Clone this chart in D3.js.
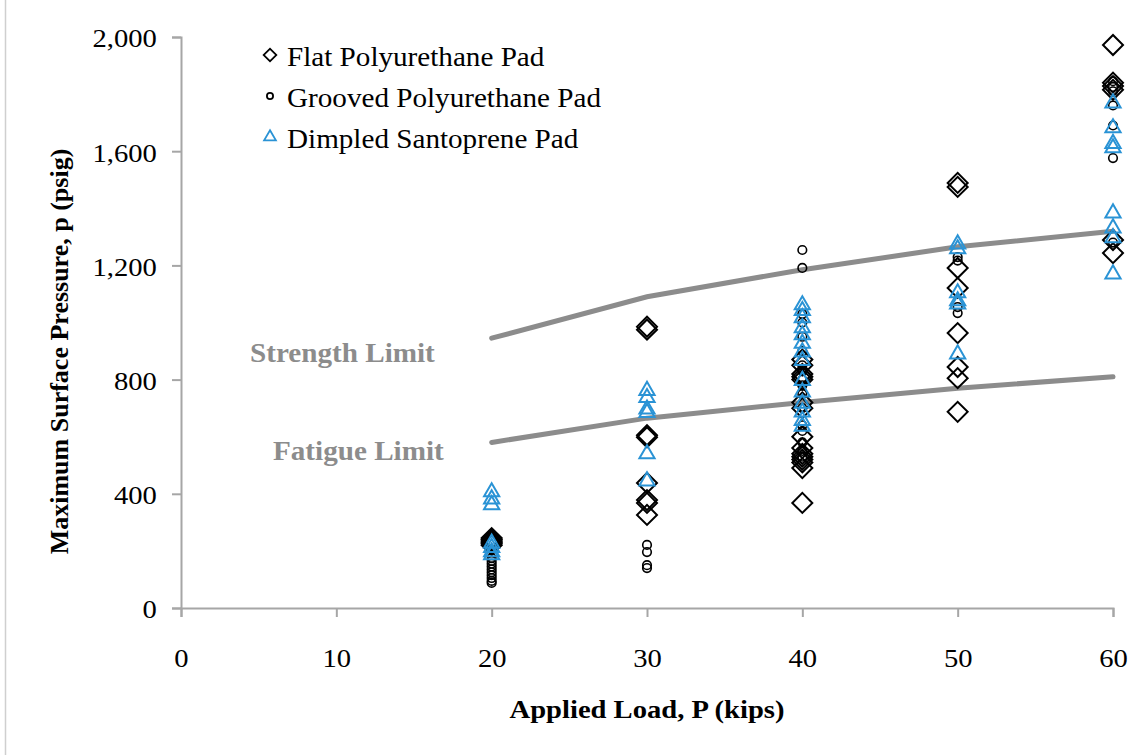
<!DOCTYPE html>
<html>
<head>
<meta charset="utf-8">
<script src="https://cdn.jsdelivr.net/npm/d3@7"></script>
<style>
  body { margin: 0; background: #fff; }
  svg { display: block; }
</style>
</head>
<body>
<script>
// Chart data
const xTicks = [0, 10, 20, 30, 40, 50, 60];
const yTicks = [0, 400, 800, 1200, 1600, 2000];

// [load (kips), pressure (psig)]
const flatPad = [
  [20, 245], [20, 240], [20, 235], [20, 230], [20, 225], [20, 220],
  [30, 985], [30, 975], [30, 605], [30, 598], [30, 438], [30, 378], [30, 368], [30, 326],
  [40, 870], [40, 850], [40, 820], [40, 810], [40, 800], [40, 720], [40, 700], [40, 600],
  [40, 560], [40, 540], [40, 530], [40, 520], [40, 510], [40, 490], [40, 368],
  [50, 1489], [50, 1475], [50, 1191], [50, 1121], [50, 963], [50, 844], [50, 805], [50, 687],
  [60, 1972], [60, 1840], [60, 1828], [60, 1815], [60, 1289], [60, 1243]
];
const groovedPad = [
  [20, 175], [20, 165], [20, 155], [20, 145], [20, 135], [20, 125], [20, 115], [20, 105], [20, 95], [20, 88],
  [30, 221], [30, 196], [30, 150], [30, 140],
  [40, 1254], [40, 1191], [40, 1030], [40, 1000], [40, 950], [40, 900], [40, 850], [40, 830],
  [40, 800], [40, 780], [40, 750], [40, 700], [40, 640], [40, 620], [40, 580], [40, 550], [40, 530],
  [50, 1229], [50, 1217], [50, 1054], [50, 1033],
  [60, 1845], [60, 1825], [60, 1810], [60, 1760], [60, 1690], [60, 1576], [60, 1280]
];
const dimpledPad = [
  [20, 410], [20, 385], [20, 365], [20, 230], [20, 215], [20, 200], [20, 190],
  [30, 765], [30, 740], [30, 700], [30, 688], [30, 543], [30, 448],
  [40, 1065], [40, 1045], [40, 1020], [40, 985], [40, 960], [40, 930], [40, 900], [40, 870],
  [40, 800], [40, 760], [40, 720], [40, 690], [40, 660], [40, 640],
  [50, 1278], [50, 1261], [50, 1107], [50, 1079], [50, 1068], [50, 893],
  [60, 1772], [60, 1685], [60, 1630], [60, 1615], [60, 1387], [60, 1334], [60, 1300], [60, 1173]
];

const limitLoads = [20, 30, 40, 50, 60];
const strengthLimit = [945, 1090, 1185, 1265, 1320];
const fatigueLimit = [580, 665, 720, 770, 810];

const width = 1135;
const height = 755;
const blue = "#2a93d5";
const serif = "'Liberation Serif', 'Times New Roman', serif";
const stretch = 1.1; // the source picture is a bit wider than tall

// Scales
const xScale = d3.scaleLinear().domain([0, 60]).range([181, 1113]);
const yScale = d3.scaleLinear().domain([0, 2000]).range([608, 37]);

const svg = d3
  .select("body")
  .append("svg")
  .attr("width", width)
  .attr("height", height);

// Faint frame line on the left
svg
  .append("line")
  .attr("x1", 5.5)
  .attr("x2", 5.5)
  .attr("y1", 0)
  .attr("y2", height)
  .attr("stroke", "#cfcfcf")
  .attr("stroke-width", 1.5);

// Y axis
const yAxis = svg
  .append("g")
  .attr("transform", `translate(${xScale(0)}, 0)`)
  .call(d3.axisLeft(yScale).tickValues(yTicks).tickSize(9).tickPadding(13).tickFormat(d3.format(",")));
yAxis.selectAll("path, line").attr("stroke", "#a6a6a6").attr("stroke-width", 2);
yAxis
  .selectAll("text")
  .attr("font-family", serif)
  .attr("font-size", "26px")
  .attr("fill", "#000")
  .attr("dy", "0.38em")
  .attr("transform", `scale(${stretch}, 1)`);

// X axis
const xAxis = svg
  .append("g")
  .attr("transform", `translate(0, ${yScale(0)})`)
  .call(d3.axisBottom(xScale).tickValues(xTicks).tickSize(9));
xAxis.selectAll("path, line").attr("stroke", "#a6a6a6").attr("stroke-width", 2);
xAxis
  .selectAll("text")
  .attr("font-family", serif)
  .attr("font-size", "26px")
  .attr("fill", "#000")
  .attr("y", 59)
  .attr("dy", null)
  .attr("transform", `scale(${stretch}, 1)`);

// Axis labels
svg
  .append("text")
  .attr("transform", `translate(${xScale(30)}, 718) scale(${stretch}, 1)`)
  .attr("text-anchor", "middle")
  .attr("font-family", serif)
  .attr("font-weight", "bold")
  .attr("font-size", "26px")
  .text("Applied Load, P (kips)");

svg
  .append("text")
  .attr("transform", `translate(68, ${yScale(1000) + 29}) rotate(-90)`)
  .attr("text-anchor", "middle")
  .attr("font-family", serif)
  .attr("font-weight", "bold")
  .attr("font-size", "26px")
  .text("Maximum Surface Pressure, p (psig)");

// Limit lines
const limitLine = d3
  .line()
  .x((d, i) => xScale(limitLoads[i]))
  .y((d) => yScale(d));

[strengthLimit, fatigueLimit].forEach((vals) => {
  svg
    .append("path")
    .attr("d", limitLine(vals))
    .attr("fill", "none")
    .attr("stroke", "#8c8c8c")
    .attr("stroke-width", 5)
    .attr("stroke-linecap", "round");
});

// Limit labels
svg
  .append("text")
  .attr("transform", `translate(250, 362) scale(${stretch}, 1)`)
  .attr("font-family", serif)
  .attr("font-weight", "bold")
  .attr("font-size", "26.5px")
  .attr("fill", "#8c8c8c")
  .text("Strength Limit");

svg
  .append("text")
  .attr("transform", `translate(273, 460) scale(${stretch}, 1)`)
  .attr("font-family", serif)
  .attr("font-weight", "bold")
  .attr("font-size", "26.5px")
  .attr("fill", "#8c8c8c")
  .text("Fatigue Limit");

// Markers
const diamond = d3.symbol(d3.symbolSquare).size(200);
const circle = d3.symbol(d3.symbolCircle).size(58);
const triangle = d3.symbol(d3.symbolTriangle).size(100);

svg
  .append("g")
  .selectAll("path")
  .data(flatPad)
  .join("path")
  .attr("d", diamond)
  .attr("transform", (d) => `translate(${xScale(d[0])}, ${yScale(d[1])}) rotate(45)`)
  .attr("fill", "none")
  .attr("stroke", "#000")
  .attr("stroke-width", 2);

svg
  .append("g")
  .selectAll("path")
  .data(groovedPad)
  .join("path")
  .attr("d", circle)
  .attr("transform", (d) => `translate(${xScale(d[0])}, ${yScale(d[1])})`)
  .attr("fill", "none")
  .attr("stroke", "#000")
  .attr("stroke-width", 1.6);

svg
  .append("g")
  .selectAll("path")
  .data(dimpledPad)
  .join("path")
  .attr("d", triangle)
  .attr("transform", (d) => `translate(${xScale(d[0])}, ${yScale(d[1]) + 1})`)
  .attr("fill", "none")
  .attr("stroke", blue)
  .attr("stroke-width", 2);

// Legend
const legendItems = [
  { label: "Flat Polyurethane Pad", sym: d3.symbol(d3.symbolSquare).size(80), rot: 45, color: "#000" },
  { label: "Grooved Polyurethane Pad", sym: d3.symbol(d3.symbolCircle).size(30), rot: 0, color: "#000" },
  { label: "Dimpled Santoprene Pad", sym: d3.symbol(d3.symbolTriangle).size(60), rot: 0, color: blue }
];

const legend = svg
  .append("g")
  .selectAll("g")
  .data(legendItems)
  .join("g")
  .attr("transform", (d, i) => `translate(270, ${55 + i * 41})`);

legend
  .append("path")
  .attr("d", (d) => d.sym())
  .attr("transform", (d) => `rotate(${d.rot})`)
  .attr("fill", "none")
  .attr("stroke", (d) => d.color)
  .attr("stroke-width", 1.8);

legend
  .append("text")
  .attr("transform", `translate(17, 11) scale(${stretch}, 1)`)
  .attr("font-family", serif)
  .attr("font-size", "26.5px")
  .attr("fill", "#000")
  .text((d) => d.label);
</script>
</body>
</html>
